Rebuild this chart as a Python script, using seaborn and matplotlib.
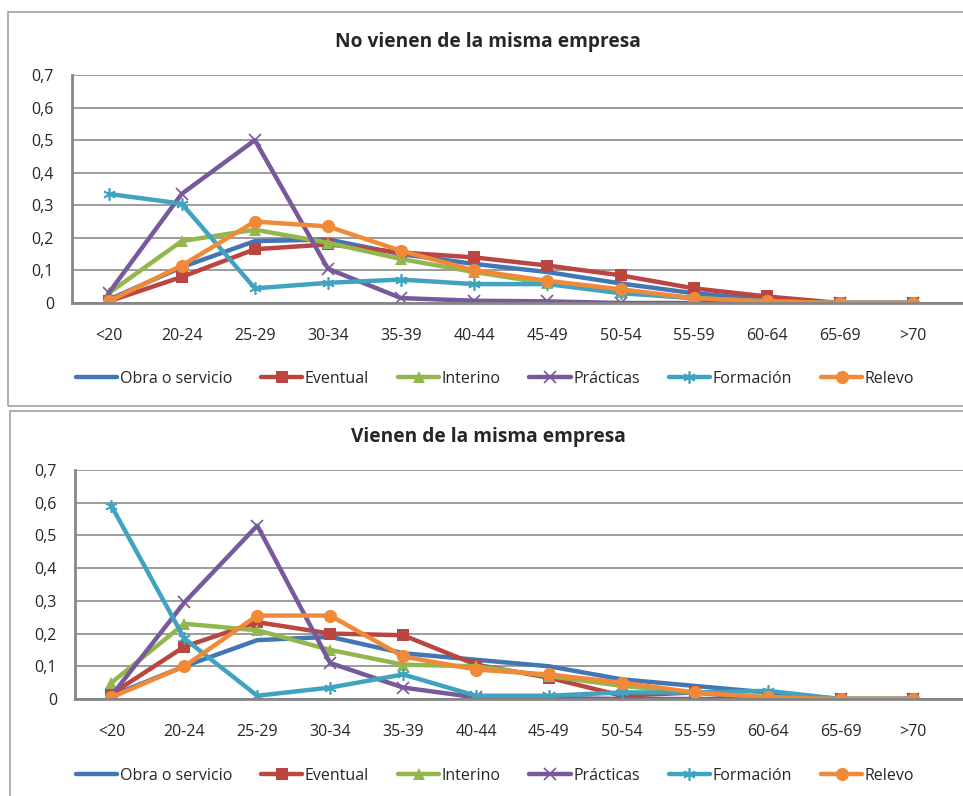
import pandas as pd
import numpy as np
import seaborn as sns
import matplotlib.pyplot as plt
from matplotlib.patches import Rectangle

edades = ['<20', '20-24', '25-29', '30-34', '35-39', '40-44', '45-49',
          '50-54', '55-59', '60-64', '65-69', '>70']
series = ['Obra o servicio', 'Eventual', 'Interino', 'Prácticas', 'Formación', 'Relevo']

# No vienen de la misma empresa
no_obra = [0.01, 0.11, 0.19, 0.195, 0.15, 0.12, 0.095, 0.06, 0.03, 0.01, 0, 0]
no_eventual = [0.005, 0.08, 0.165, 0.18, 0.155, 0.14, 0.115, 0.085, 0.045, 0.02, 0, 0]
no_interino = [0.03, 0.19, 0.225, 0.185, 0.135, 0.095, 0.06, 0.035, 0.015, 0.005, 0, 0]
no_practicas = [0.03, 0.335, 0.50, 0.105, 0.015, 0.007, 0.005, 0, 0, 0, 0, 0]
no_formacion = [0.335, 0.305, 0.045, 0.062, 0.072, 0.058, 0.058, 0.03, 0.015, 0.005, 0, 0]
no_relevo = [0.005, 0.115, 0.25, 0.235, 0.16, 0.10, 0.068, 0.042, 0.015, 0.005, 0, 0]

# Vienen de la misma empresa
si_obra = [0.01, 0.10, 0.18, 0.19, 0.14, 0.12, 0.10, 0.06, 0.04, 0.02, 0, 0]
si_eventual = [0.015, 0.16, 0.235, 0.20, 0.195, 0.105, 0.065, 0.01, 0.02, 0, 0, 0]
si_interino = [0.05, 0.23, 0.21, 0.15, 0.105, 0.10, 0.07, 0.04, 0.02, 0.005, 0, 0]
si_practicas = [0.01, 0.295, 0.53, 0.11, 0.035, 0.005, 0.003, 0, 0, 0, 0, 0]
si_formacion = [0.59, 0.185, 0.01, 0.035, 0.075, 0.01, 0.01, 0.02, 0.02, 0.025, 0, 0]
si_relevo = [0.005, 0.10, 0.255, 0.255, 0.13, 0.09, 0.075, 0.05, 0.02, 0.005, 0, 0]

colores = ['#4376B4', '#BA4541', '#94B64F', '#77599C', '#40A4C0', '#F08A38']
marcadores = [None, 's', '^', 'x', (6, 2, 0), 'o']
tamanos = [0, 8.5, 9, 8, 9, 9.5]

sns.set_style('white')
plt.rcParams['font.family'] = ['Open Sans', 'DejaVu Sans']

fig = plt.figure(figsize=(9.63, 7.96), dpi=100)

# marcos de los graficos
fig.patches.append(Rectangle((8 / 963, 1 - 406 / 796), 1.0, 394 / 796,
                             transform=fig.transFigure, fill=False,
                             edgecolor='#A0A0A0', linewidth=1.2))
fig.patches.append(Rectangle((10 / 963, -0.05), 1.0, 1 - 411 / 796 + 0.05,
                             transform=fig.transFigure, fill=False,
                             edgecolor='#A0A0A0', linewidth=1.2))


def dibujar(ax, datos, titulo, ytit, yley):
    df = pd.DataFrame({'edad': edades * len(series),
                       'valor': np.concatenate(datos),
                       'tipo': np.repeat(series, len(edades))})
    for i, s in enumerate(series):
        sub = df[df['tipo'] == s]
        fino = marcadores[i] in ('x', (6, 2, 0))
        sns.lineplot(data=sub, x='edad', y='valor', ax=ax, color=colores[i],
                     marker=marcadores[i], markersize=tamanos[i],
                     markeredgewidth=1.2 if fino else 0,
                     markeredgecolor=colores[i],
                     linewidth=3.2, label=s, sort=False)
    ax.set_ylim(0, 0.7)
    ax.set_xlim(-0.5, 11.68)
    ax.set_yticks(np.arange(0, 0.71, 0.1))
    ax.set_yticklabels(['0'] + ['0,%d' % k for k in range(1, 8)])
    ax.grid(axis='y', color='#9C9C9C', linewidth=1.4)
    ax.set_axisbelow(True)
    for lado in ['top', 'right']:
        ax.spines[lado].set_visible(False)
    for lado in ['left', 'bottom']:
        ax.spines[lado].set_color('#868686')
        ax.spines[lado].set_linewidth(2.0)
    ax.tick_params(axis='x', length=0, pad=18, labelsize=11.5)
    ax.tick_params(axis='y', length=0, pad=13, labelsize=11.5)
    ax.set_xlabel('')
    ax.set_ylabel('')
    fig.text(0.507, ytit, titulo, ha='center', va='center',
             fontsize=13.8, fontweight='bold')
    h, l = ax.get_legend_handles_labels()
    ax.legend(h, l, loc='center', bbox_to_anchor=(0.514, yley),
              bbox_transform=fig.transFigure, ncol=6, frameon=False,
              fontsize=11.5, handlelength=2.6, handletextpad=0.15,
              columnspacing=1.8)


ax1 = fig.add_axes([72 / 963, 1 - 303 / 796, (963 - 72) / 963, 228 / 796])
dibujar(ax1, [no_obra, no_eventual, no_interino, no_practicas, no_formacion, no_relevo],
        'No vienen de la misma empresa', 1 - 42 / 796, 1 - 379 / 796)

ax2 = fig.add_axes([75 / 963, 1 - 699 / 796, (963 - 75) / 963, 229 / 796])
dibujar(ax2, [si_obra, si_eventual, si_interino, si_practicas, si_formacion, si_relevo],
        'Vienen de la misma empresa', 1 - 437 / 796, 1 - 776 / 796)

plt.savefig('out.png', dpi=100)
